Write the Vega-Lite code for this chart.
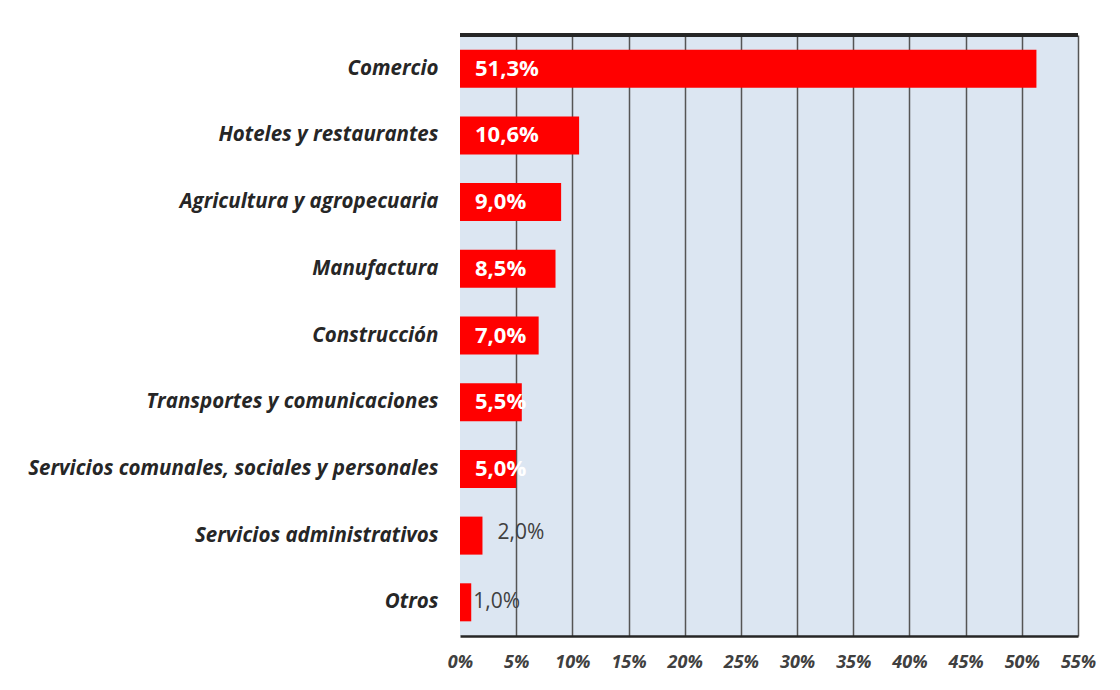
{
  "$schema": "https://vega.github.io/schema/vega-lite/v6.json",
  "autosize": "none",
  "width": 618,
  "height": 601,
  "padding": {"left": 460, "top": 35, "right": 42, "bottom": 54},
  "background": "white",
  "config": {
    "font": "Open Sans",
    "view": {"fill": "#dce6f2", "stroke": null}
  },
  "data": {
    "values": [
      {"sector": "Comercio", "valor": 51.3},
      {"sector": "Hoteles y restaurantes", "valor": 10.6},
      {"sector": "Agricultura y agropecuaria", "valor": 9.0},
      {"sector": "Manufactura", "valor": 8.5},
      {"sector": "Construcción", "valor": 7.0},
      {"sector": "Transportes y comunicaciones", "valor": 5.5},
      {"sector": "Servicios comunales, sociales y personales", "valor": 5.0},
      {"sector": "Servicios administrativos", "valor": 2.0},
      {"sector": "Otros", "valor": 1.0}
    ]
  },
  "transform": [
    {"calculate": "replace(format(datum.valor, '.1f'), '.', ',') + '%'", "as": "etiqueta"}
  ],
  "encoding": {
    "y": {
      "field": "sector",
      "type": "nominal",
      "sort": null,
      "scale": {"paddingInner": 0.43, "paddingOuter": 0.22},
      "axis": {
        "title": null,
        "domain": false,
        "ticks": false,
        "labelPadding": 22,
        "labelFont": "Open Sans",
        "labelFontSize": 20.5,
        "labelFontWeight": "bold",
        "labelFontStyle": "italic",
        "labelColor": "#262626",
        "labelLimit": 500
      }
    }
  },
  "layer": [
    {
      "mark": {"type": "bar", "color": "#ff0000"},
      "encoding": {
        "x": {
          "field": "valor",
          "type": "quantitative",
          "scale": {"domain": [0, 55], "nice": false},
          "axis": {
            "title": null,
            "values": [0, 5, 10, 15, 20, 25, 30, 35, 40, 45, 50, 55],
            "labelExpr": "datum.value + '%'",
            "labelFlush": false,
            "labelOverlap": false,
            "domain": true,
            "domainColor": "#262626",
            "domainWidth": 2.5,
            "ticks": false,
            "labelPadding": 17,
            "labelFont": "Open Sans",
            "labelFontSize": 18,
            "labelFontWeight": "bold",
            "labelFontStyle": "italic",
            "labelColor": "#404040",
            "grid": true,
            "gridColor": {"condition": {"test": "datum.value == 0", "value": "transparent"}, "value": "#555555"},
            "gridWidth": 1.5
          }
        }
      }
    },
    {
      "mark": {"type": "rule", "color": "#262626", "strokeWidth": 3},
      "encoding": {
        "x": {"datum": 0},
        "x2": {"datum": 55},
        "y": {"value": 0}
      }
    },
    {
      "transform": [{"filter": "datum.valor >= 5"}],
      "mark": {"type": "text", "align": "left", "baseline": "middle", "dx": 15, "color": "white", "fontWeight": "bold", "fontSize": 22, "font": "Open Sans"},
      "encoding": {
        "x": {"datum": 0},
        "text": {"field": "etiqueta"}
      }
    },
    {
      "transform": [{"filter": "datum.valor == 2"}],
      "mark": {"type": "text", "align": "left", "baseline": "middle", "dx": 15, "dy": -3, "color": "#404040", "fontSize": 21, "font": "Open Sans"},
      "encoding": {
        "x": {"field": "valor", "type": "quantitative"},
        "text": {"field": "etiqueta"}
      }
    },
    {
      "transform": [{"filter": "datum.valor == 1"}],
      "mark": {"type": "text", "align": "left", "baseline": "middle", "dx": 2, "color": "#404040", "fontSize": 21, "font": "Open Sans"},
      "encoding": {
        "x": {"field": "valor", "type": "quantitative"},
        "text": {"field": "etiqueta"}
      }
    }
  ]
}
